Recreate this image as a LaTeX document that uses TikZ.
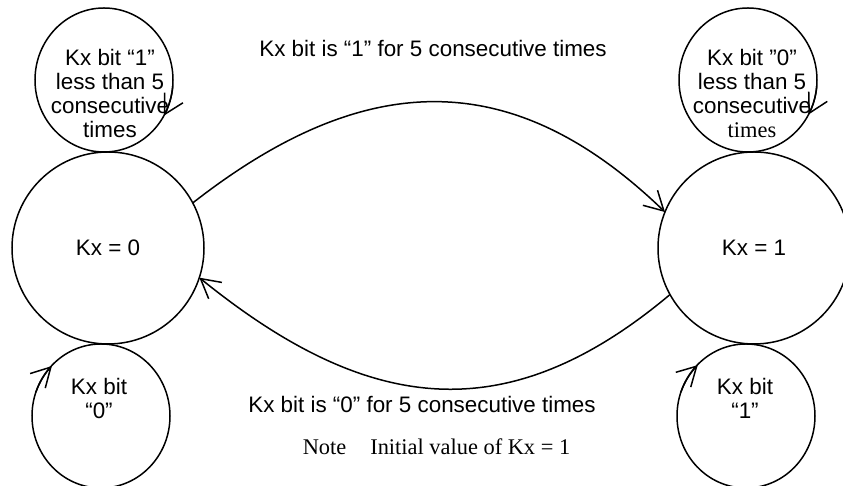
\documentclass[tikz,border=0pt]{standalone}
\usepackage{fontspec}
\setmainfont{Liberation Sans}
\newfontfamily\timesfont{Liberation Serif}
\usetikzlibrary{arrows.meta,positioning,shapes.geometric}

\begin{document}
\begin{tikzpicture}[x=0.5pt, y=0.5pt, line width=0.75pt, font=\fontsize{11.2}{12}\selectfont]
        \tikzset{bigstate/.style={circle, draw, minimum size=96pt, inner sep=0pt, outer sep=0pt}, loopstate/.style={ellipse, draw, minimum width=69pt, minimum height=72pt, inner sep=0pt, outer sep=0pt}, looptext/.style={align=center, inner sep=0pt}, arr/.style={-{Straight Barb[length=9.5pt, width=10.5pt]}}}
        \useasboundingbox (0,0) rectangle (843,486);
        \node[bigstate] (kx0) at (108,238) {Kx = 0};
        \node[bigstate, right=227pt of kx0] (kx1) {Kx = 1};
        \node[loopstate, above=0pt of kx0, xshift=-2pt] (kx0top) {};
        \node[loopstate, below=0pt of kx0, xshift=-3.5pt] (kx0bot) {};
        \node[loopstate, above=0pt of kx1, xshift=-3pt] (kx1top) {};
        \node[loopstate, below=0pt of kx1, xshift=-4pt] (kx1bot) {};
        % loop texts
        \node[looptext] (txt0top) at ([shift={(6,-14)}]kx0top.center) {Kx bit “1”\\less than 5\\consecutive\\times};
        \node[looptext] (txt1top) at ([shift={(4,-14)}]kx1top.center) {Kx bit ”0”\\less than 5\\consecutive\\{\timesfont times}};
        \node[looptext] (txt0bot) at ([shift={(-2,17.5)}]kx0bot.center) {Kx bit\\“0”};
        \node[looptext] (txt1bot) at ([shift={(-1,17.5)}]kx1bot.center) {Kx bit\\“1”};
        % transition labels
        \node (lbl01) at (433,437) {Kx bit is “1” for 5 consecutive times};
        \node (lbl10) at (422,81) {Kx bit is “0” for 5 consecutive times};
        \node[font={\fontsize{11.2}{12}\selectfont\timesfont}] (note) at (436.5,39) {Note\hspace{12pt}Initial value of Kx = 1};
        \draw[arr] (kx0.28) .. controls +(38:215) and +(136:215) .. (kx1.158);
        \draw[arr] (kx1.209) .. controls +(220:215) and +(-39:215) .. (kx0.-18);
        % self loops
        \draw[arr] (kx0top.-5) arc[start angle=-5, end angle=-30, x radius=34.5pt, y radius=36pt];
        \draw[arr] (kx1top.-5) arc[start angle=-5, end angle=-29, x radius=34.5pt, y radius=36pt];
        \draw[arr] (kx0bot.160) arc[start angle=160, end angle=135, x radius=34.5pt, y radius=36pt];
        \draw[arr] (kx1bot.160) arc[start angle=160, end angle=134, x radius=34.5pt, y radius=36pt];
\end{tikzpicture}
\end{document}
